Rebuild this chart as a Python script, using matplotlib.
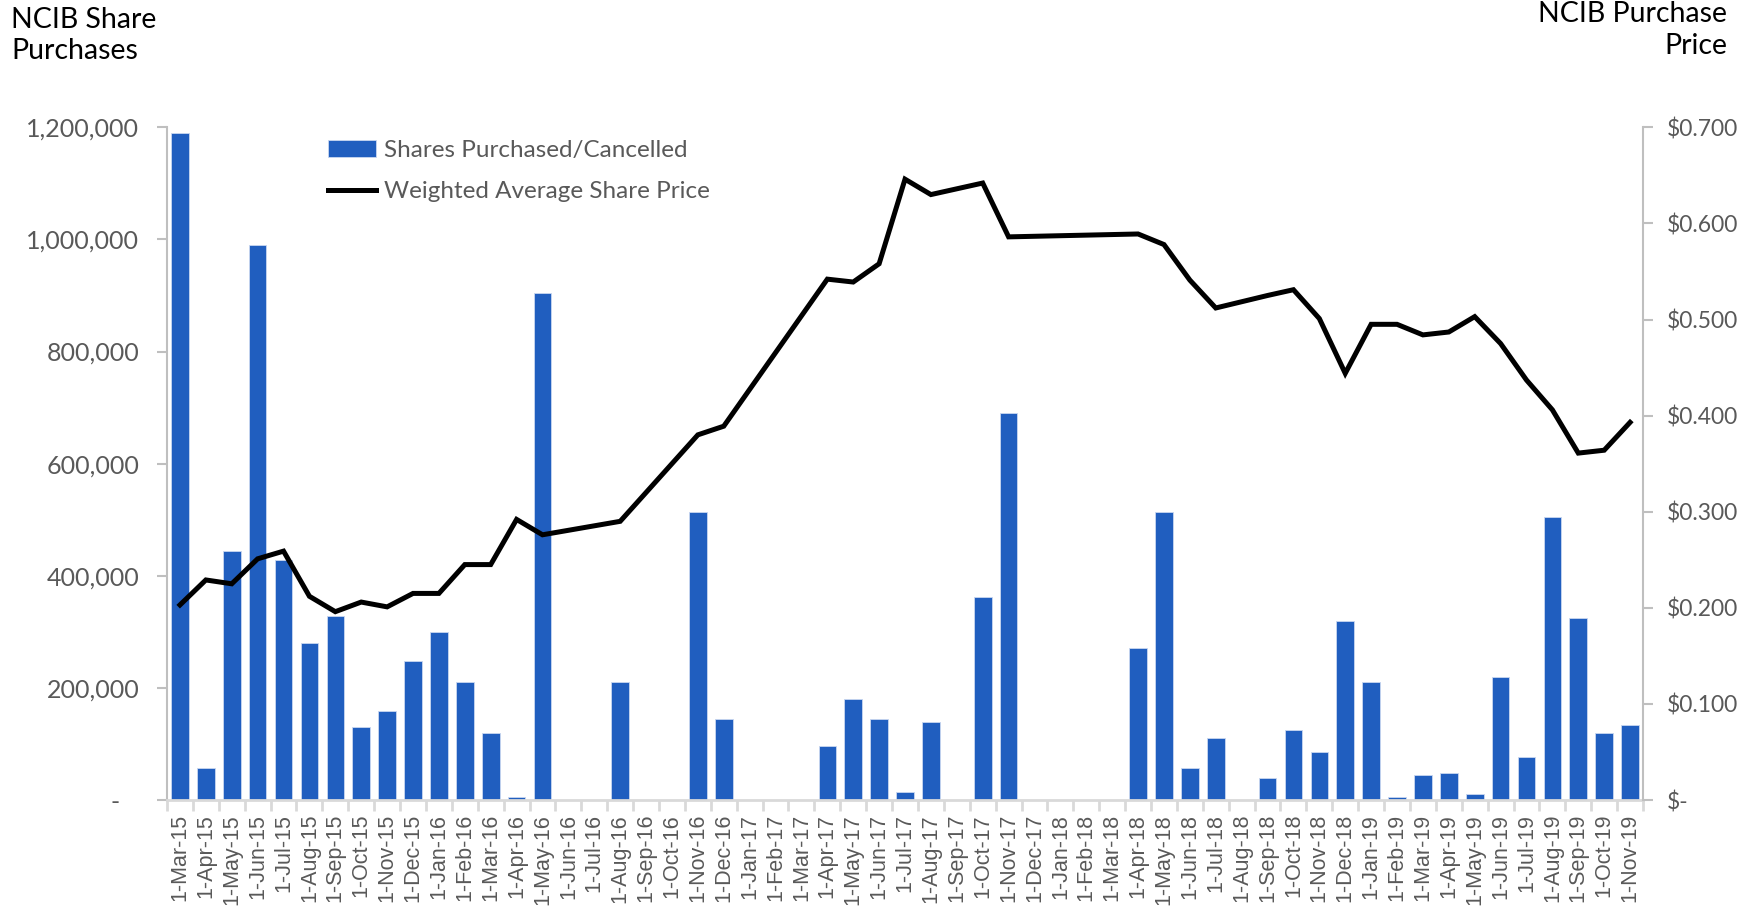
import numpy as np
import pandas as pd
import matplotlib
matplotlib.use("Agg")
import matplotlib.pyplot as plt
from matplotlib.ticker import FixedLocator, FuncFormatter

# Monthly NCIB purchases, Mar-2015 .. Nov-2019
months = pd.date_range("2015-03-01", "2019-11-01", freq="MS")
month_labels = ["1-" + d.strftime("%b-%y") for d in months]

shares = [1190000, 58000, 444000, 990000, 429000, 281000, 329000, 130000, 158000, 248000,
          300000, 210000, 120000, 5000, 904000, 0, 0, 210000, 0, 0, 514000, 144000,
          0, 0, 0, 96000, 181000, 144000, 15000, 139000, 0, 362000, 690000, 0,
          0, 0, 0, 272000, 514000, 58000, 110000, 0, 39000, 125000, 86000, 319000,
          210000, 5000, 44000, 48000, 10000, 219000, 77000, 505000, 325000, 120000, 134000]

nan = np.nan
price = [0.203, 0.229, 0.225, 0.251, 0.259, 0.212, 0.196, 0.206, 0.201, 0.215,
         0.215, 0.245, 0.245, 0.292, 0.276, nan, nan, 0.290, nan, nan, 0.380, 0.389,
         nan, nan, nan, 0.542, 0.539, 0.558, 0.646, 0.630, nan, 0.642, 0.586, nan,
         nan, nan, nan, 0.589, 0.578, 0.541, 0.512, nan, 0.525, 0.531, 0.501, 0.444,
         0.495, 0.495, 0.484, 0.487, 0.503, 0.475, 0.437, 0.406, 0.361, 0.364, 0.393]

bar_color = "#205EBF"
axis_grey = "#BFBFBF"
label_grey = "#595959"

fig = plt.figure(figsize=(17.58, 9.08), dpi=100)
ax = fig.add_axes([0.095, 0.1189, 0.8396, 0.7409])

x = np.arange(len(shares))
bars = ax.bar(x, shares, width=0.68, color=bar_color, edgecolor="#C9D7F0", linewidth=0.6,
              label="Shares Purchased/Cancelled", zorder=2)
ax.set_xlim(-0.5, len(shares) - 0.5)
ax.set_ylim(0, 1200000)

# x axis: labels at centres, tick marks between categories
ax.xaxis.set_major_locator(FixedLocator(x))
ax.set_xticklabels(month_labels, rotation=90, family="Liberation Sans", fontsize=15.5, color=label_grey)
ax.xaxis.set_minor_locator(FixedLocator(np.arange(-0.5, len(shares), 1.0)))
ax.tick_params(axis="x", which="major", length=0, pad=10)
ax.tick_params(axis="x", which="minor", length=8, width=2, color="#D9D9D9")

ax.yaxis.set_major_locator(FixedLocator(np.arange(0, 1200001, 200000)))
ax.yaxis.set_major_formatter(FuncFormatter(lambda v, p: "-   " if v == 0 else f"{v:,.0f}"))
ax.tick_params(axis="y", length=7, width=1.5, color=axis_grey, pad=13, labelsize=18, labelcolor=label_grey)
for t in ax.get_yticklabels():
    t.set_family("Lato")

for s in ["top", "right"]:
    ax.spines[s].set_visible(False)
ax.spines["left"].set_color(axis_grey)
ax.spines["left"].set_linewidth(1.5)
ax.spines["bottom"].set_color("#D9D9D9")
ax.spines["bottom"].set_linewidth(2)

# price line on the right axis, connecting across months with no purchases
ax2 = ax.twinx()
price = np.array(price)
ok = ~np.isnan(price)
line, = ax2.plot(x[ok], price[ok], color="black", linewidth=3.6, solid_joinstyle="miter",
                 label="Weighted Average Share Price", zorder=3)
ax2.set_ylim(0, 0.7)
ax2.yaxis.set_major_locator(FixedLocator(np.arange(0, 0.701, 0.1)))
ax2.yaxis.set_major_formatter(FuncFormatter(lambda v, p: "$-" if v < 1e-9 else f"${v:.3f}"))
ax2.tick_params(axis="y", length=7, width=1.5, color=axis_grey, pad=10, labelsize=16.5, labelcolor=label_grey)
for t in ax2.get_yticklabels():
    t.set_family("Lato")
for s in ["top", "left", "bottom"]:
    ax2.spines[s].set_visible(False)
ax2.spines["right"].set_color(axis_grey)
ax2.spines["right"].set_linewidth(1.5)

leg = ax2.legend([bars, line], ["Shares Purchased/Cancelled", "Weighted Average Share Price"],
                 loc="upper left", bbox_to_anchor=(318 / 1758, 1 - 130 / 908),
                 bbox_transform=fig.transFigure, frameon=False, prop={"family": "Lato", "size": 17.5},
                 handlelength=2.0, handletextpad=0.3, labelspacing=0.85, borderaxespad=0)
for t in leg.get_texts():
    t.set_color(label_grey)

fig.text(11 / 1758, 1 - 7 / 908, "NCIB Share\nPurchases", ha="left", va="top",
         family="Lato", fontsize=20.5, linespacing=1.25)
fig.text(1727 / 1758, 1 - 1 / 908, "NCIB Purchase\nPrice", ha="right", va="top",
         family="Lato", fontsize=20.5, linespacing=1.3, multialignment="right")

fig.savefig("out.png", dpi=100)
